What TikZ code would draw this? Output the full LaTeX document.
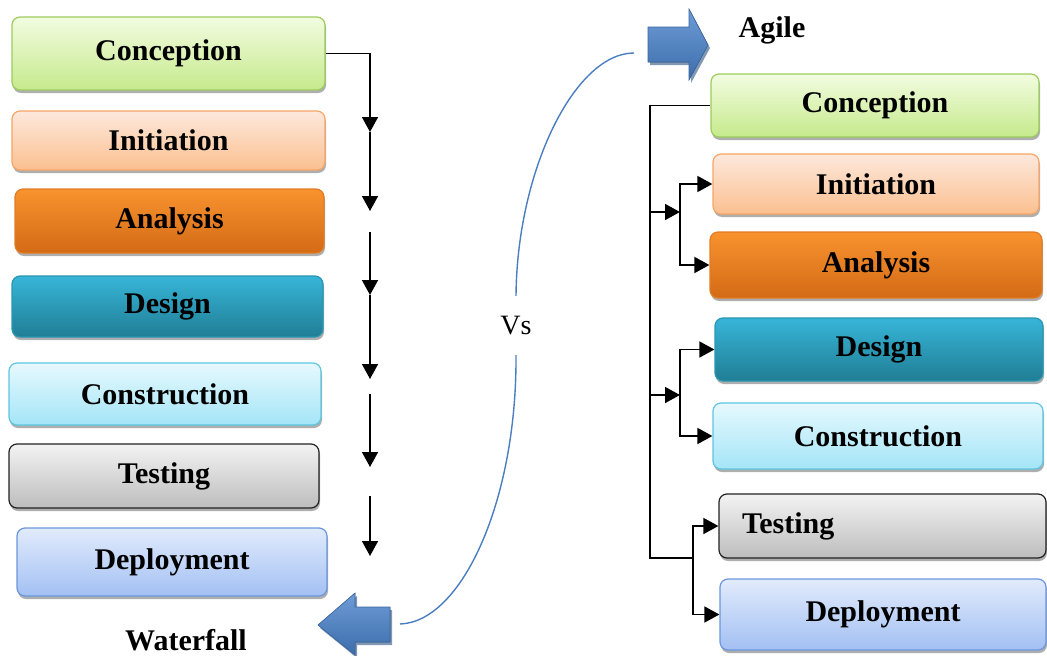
\documentclass[tikz,border=0pt]{standalone}
\usepackage{fontspec}
\setmainfont{Liberation Serif}
\usetikzlibrary{arrows.meta,shadows}
\definecolor{gT}{HTML}{F2FCE0}\definecolor{gB}{HTML}{C6EA8C}\definecolor{gD}{HTML}{9CCB5E}
\definecolor{pT}{HTML}{FDE8DC}\definecolor{pB}{HTML}{FBC090}\definecolor{pD}{HTML}{F7A566}
\definecolor{oT}{HTML}{F8932E}\definecolor{oB}{HTML}{D46A16}\definecolor{oD}{HTML}{E07C22}
\definecolor{tT}{HTML}{37B5D8}\definecolor{tB}{HTML}{207E95}\definecolor{tD}{HTML}{2A96B2}
\definecolor{cT}{HTML}{E6F9FE}\definecolor{cB}{HTML}{A4E5F7}\definecolor{cD}{HTML}{5EC5E1}
\definecolor{sT}{HTML}{F3F3F3}\definecolor{sB}{HTML}{BDBDBD}\definecolor{sD}{HTML}{222222}
\definecolor{bT}{HTML}{E1EBFC}\definecolor{bB}{HTML}{A3C0F3}\definecolor{bD}{HTML}{6B96DC}
\definecolor{arT}{HTML}{6E9CD6}\definecolor{arB}{HTML}{3C6DAB}\definecolor{arD}{HTML}{3A67A0}
\definecolor{curve}{HTML}{4A7EC0}
\begin{document}
\begin{tikzpicture}[x=1pt,y=-1pt,
  box/.style={rounded corners=8pt, line width=1.2pt, inner sep=0pt,
    font=\fontsize{30}{36}\selectfont\bfseries,
    drop shadow={shadow xshift=1pt, shadow yshift=-3pt, opacity=0.45, fill=black!70}},
  green/.style={box, top color=gT, bottom color=gB, draw=gD},
  peach/.style={box, top color=pT, bottom color=pB, draw=pD},
  orng/.style={box, top color=oT, bottom color=oB, draw=oD},
  teal/.style={box, top color=tT, bottom color=tB, draw=tD},
  cyan/.style={box, top color=cT, bottom color=cB, draw=cD},
  grey/.style={box, top color=sT, bottom color=sB, draw=sD},
  blue/.style={box, top color=bT, bottom color=bB, draw=bD},
  lbl/.style={font=\fontsize{30}{36}\selectfont\bfseries, inner sep=0pt},
  conn/.style={line width=1.6pt, black},
  arr/.style={conn, -{Triangle[width=16pt,length=15pt]}},
  blockarrow/.style={top color=arT, bottom color=arB, draw=arD, line width=0.6pt,
    drop shadow={shadow xshift=2pt, shadow yshift=-3pt, opacity=0.6, fill=arD!80!black}}
]
\useasboundingbox (0,0) rectangle (1047,656);

% ---------- Waterfall (left) ----------
\node[green, minimum width=313pt, minimum height=73pt] (L1) at (168.5,53.5) {Conception};
\node[peach, minimum width=313pt, minimum height=59pt] (L2) at (168.5,140.5) {Initiation};
\node[orng,  minimum width=309pt, minimum height=64pt] (L3) at (169.5,221) {Analysis};
\node[teal,  minimum width=311pt, minimum height=61pt] (L4) at (167.5,306.5) {Design};
\node[cyan,  minimum width=312pt, minimum height=62pt] (L5) at (165,394) {Construction};
\node[grey,  minimum width=310pt, minimum height=64pt] (L6) at (164,476) {Testing};
\node[blue,  minimum width=310pt, minimum height=68pt] (L7) at (172,562) {Deployment};
\node[lbl] (wf) at (186,640) {Waterfall};

\coordinate (w0) at (370,53.5);
\coordinate (w1) at (370,132);
\coordinate (w2) at (370,211);
\coordinate (w3) at (370,232);
\coordinate (w4) at (370,295);
\coordinate (w5) at (370,379);
\coordinate (w6) at (370,394);
\coordinate (w7) at (370,467);
\coordinate (w8) at (370,496);
\coordinate (w9) at (370,556);
\draw[arr] (L1.east) -- (w0) -- (w1);
\draw[arr] (w1) -- (w2);
\draw[arr] (w3) -- (w4);
\draw[arr] (w4) -- (w5);
\draw[arr] (w6) -- (w7);
\draw[arr] (w8) -- (w9);

% ---------- block arrows ----------
\fill[blockarrow] (390,607) -- (355,607) -- (355,593) -- (318,625) -- (355,655) -- (355,642) -- (390,642) -- cycle;
\fill[blockarrow] (648,27) -- (689,27) -- (689,9) -- (708,45) -- (689,80) -- (689,62) -- (648,62) -- cycle;
\coordinate (wa) at (400,624);
\coordinate (aa) at (634,53);

\node[font=\fontsize{28}{32}\selectfont, inner sep=0pt, minimum height=59pt] (vs) at (516,325.5) {Vs};
\draw[curve, line width=1.4pt] (wa) .. controls (462,622) and (517,500) .. (vs.south);
\draw[curve, line width=1.4pt] (vs.north) .. controls (517,170) and (575,53) .. (aa);

% ---------- Agile (right) ----------
\node[lbl] (ag) at (772,30) {Agile};
\node[green, minimum width=328pt, minimum height=63pt] (R1) at (875,105.5) {Conception};
\node[peach, minimum width=326pt, minimum height=60pt] (R2) at (876,184) {Initiation};
\node[orng,  minimum width=332pt, minimum height=66pt] (R3) at (876,265) {Analysis};
\node[teal,  minimum width=328pt, minimum height=63pt] (R4) at (879,349.5) {Design};
\node[cyan,  minimum width=330pt, minimum height=66pt] (R5) at (878,436) {Construction};
\node[grey,  minimum width=327pt, minimum height=64pt, text width=281pt, align=left, inner xsep=23pt] (R6) at (882.5,526) {Testing};
\node[blue,  minimum width=326pt, minimum height=71pt] (R7) at (883,614.5) {Deployment};

\coordinate (m0) at (650,105.5);
\coordinate (m1) at (650,212);
\coordinate (m2) at (650,395);
\coordinate (m3) at (650,558);
\coordinate (b1) at (680,212);
\coordinate (b2) at (680,395);
\coordinate (b3) at (693,558);
\draw[conn] (R1.west) -- (m0) -- (m3) -- (b3);
\draw[arr] (m1) -- (b1);
\draw[arr] (m2) -- (b2);
\draw[arr] (b1) |- (R2.west);
\draw[arr] (b1) |- (R3.west);
\draw[arr] (b2) |- (R4.west);
\draw[arr] (b2) |- (R5.west);
\draw[arr] (b3) |- (R6.west);
\draw[arr] (b3) |- (R7.west);
\end{tikzpicture}
\end{document}
